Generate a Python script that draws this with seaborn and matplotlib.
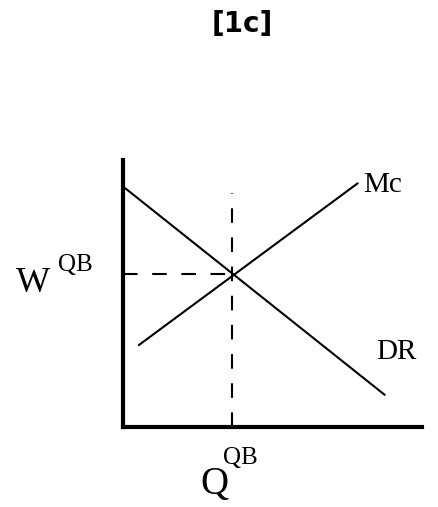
import matplotlib
matplotlib.use('Agg')
import matplotlib.pyplot as plt
import seaborn as sns
import pandas as pd

# curve end points (quantity, wage)
q_dr = [0.07, 8.73]
w_dr = [7.97, 1.07]
q_mc = [0.53, 7.83]
w_mc = [2.73, 8.13]
q_eq = 3.63
w_eq = 5.1
w_top = 7.8

sns.set_style('white')

fig = plt.figure(figsize=(4.39, 5.07), dpi=100)
ax = fig.add_axes([0.280, 0.158, 0.681, 0.526])

dr = pd.DataFrame({'Q': q_dr, 'W': w_dr})
mc = pd.DataFrame({'Q': q_mc, 'W': w_mc})
sns.lineplot(data=dr, x='Q', y='W', color='black', lw=1.5, ax=ax)
sns.lineplot(data=mc, x='Q', y='W', color='black', lw=1.5, ax=ax)

# dashed guides to the equilibrium
ax.plot([q_eq, q_eq], [0, w_top], color='black', lw=1.5, dashes=(7, 7))
ax.plot([0, q_eq], [w_eq, w_eq], color='black', lw=1.5, dashes=(7, 7))

ax.set_xlim(0, 9.97)
ax.set_ylim(0, 8.9)
ax.set_xticks([])
ax.set_yticks([])
ax.set_xlabel('')
ax.set_ylabel('')
sns.despine(ax=ax)
for s in ['left', 'bottom']:
    ax.spines[s].set_linewidth(3)
    ax.spines[s].set_color('black')


def px(x, y):
    return x / 439, 1 - y / 507


serif = 'Liberation Serif'
fig.text(*px(242, 24), '[1c]', fontsize=20, ha='center', va='center',
         family='DejaVu Sans', weight='bold', color='black')
fig.text(*px(16, 283), 'W', fontsize=26, ha='left', va='center', family=serif, color='black')
fig.text(*px(58, 265), 'QB', fontsize=18, ha='left', va='center', family=serif, color='black')
fig.text(*px(214, 485), 'Q', fontsize=28, ha='center', va='center', family=serif, color='black')
fig.text(*px(223, 458), 'QB', fontsize=18, ha='left', va='center', family=serif, color='black')
fig.text(*px(363, 185), 'Mc', fontsize=21, ha='left', va='center', family=serif, color='black')
fig.text(*px(376, 352), 'DR', fontsize=21, ha='left', va='center', family=serif, color='black')

fig.savefig('out.png', dpi=100)
